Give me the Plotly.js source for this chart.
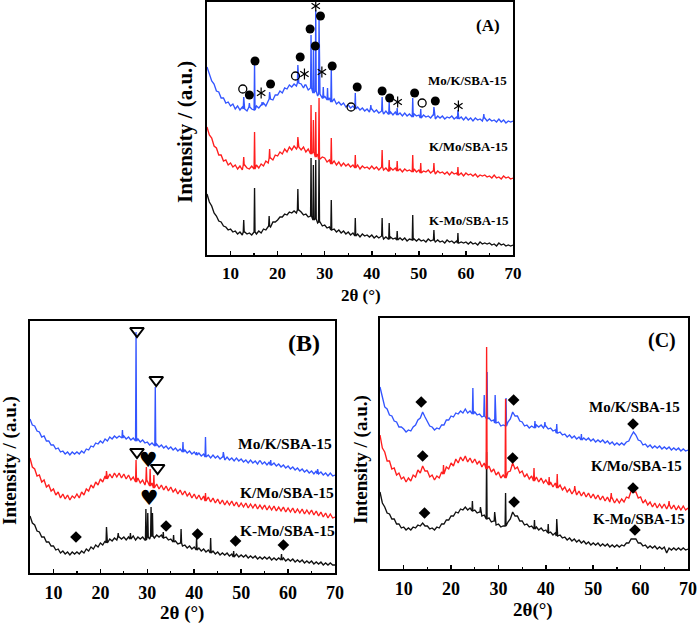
<!DOCTYPE html>
<html><head><meta charset="utf-8">
<script src="https://cdn.plot.ly/plotly-3.0.1.min.js"></script>
<style>html,body{margin:0;padding:0;background:#fff}</style>
</head><body><div id="chart" style="width:699px;height:625px"></div>
<script>
// 2-theta sampling grid (5..70 deg, 0.5 deg step)
const twoTheta = [];
for (let i = 0; i <= 130; i++) twoTheta.push(5 + i * 0.5);

const seriesNames = ["Mo/K/SBA-15", "K/Mo/SBA-15", "K-Mo/SBA-15"];
const xTicks = [10, 20, 30, 40, 50, 60, 70];

// ---------- Panel A (intensity, arbitrary units with offsets) ----------
const aBlue = [188,180,174,171,164,163,157,157,152,153,
149,151,146,149,145,148,146,144,148,146,
145,149,147,150,152,149,154,156,155,160,
160,164,162,167,166,170,168,171,169,172,
171,167,170,165,167,162,164,159,161,157,
159,155,157,153,156,151,153,150,152,148,
150,147,149,146,148,145,147,144,146,143,
146,143,145,142,144,141,144,141,143,140,
143,140,142,139,142,139,141,138,141,139,
140,137,140,138,139,137,140,136,139,137,
139,136,138,137,139,136,138,136,138,135,
138,135,137,134,137,135,136,134,137,134,
136,134,135,133,136,133,135,132,134,133,
134];
const aRed = [128,120,117,109,107,100,100,94,95,90,
92,88,90,86,89,85,90,87,86,89,
86,90,87,91,89,94,92,97,95,100,
99,103,101,106,103,108,105,109,106,108,
105,108,103,106,101,103,98,101,96,98,
97,93,95,91,94,90,93,89,92,89,
91,88,90,87,90,86,89,87,88,86,
89,86,88,85,88,85,87,84,87,85,
87,84,86,83,86,84,85,83,86,83,
85,82,84,83,85,82,84,81,84,82,
83,81,83,80,83,81,82,80,82,79,
82,80,81,79,81,78,80,79,80,78,
79,77,80,77,78,76,79,77,78,76,
77];
const aBlack = [61,53,49,42,39,34,33,29,28,25,
26,23,24,21,23,20,23,21,22,20,
23,21,24,22,26,25,29,28,33,33,
35,38,38,41,40,43,42,44,42,45,
43,40,41,38,39,35,36,32,33,29,
30,27,28,25,26,23,25,22,24,21,
23,20,22,19,21,18,21,19,20,18,
20,17,19,17,19,16,18,16,18,16,
17,15,17,15,17,14,16,15,16,14,
16,14,15,13,16,14,15,13,15,13,
14,12,15,13,14,12,14,12,13,12,
13,11,13,11,12,10,13,11,12,11,
12,10,11,9,12,10,11,9,10,9,
10];
const aBluePkX = [12.8,14.0,15.1,16.7,18.3,24.3,25.9,27.1,27.6,28.1,28.8,29.7,30.6,31.4,36.5,39.8,42.2,43.7,45.4,48.7,50.4,53.2,58.3,63.8];
const aBluePkY = [158,152,192,153,163,190,170,220,205,245,236,168,167,187,162,150,158,153,147,157,146,148,145,141];
const aRedPkX = [12.8,15.1,18.3,24.3,27.1,27.6,28.1,28.8,31.4,36.5,42.2,43.7,45.4,48.7,50.4,53.2,58.3];
const aRedPkY = [98,123,106,118,150,135,143,157,117,100,105,95,94,100,92,92,88];
const aBlackPkX = [12.8,15.1,18.2,24.3,27.1,27.6,28.1,28.8,31.4,36.5,42.2,43.7,45.4,48.7,53.2,58.3];
const aBlackPkY = [35,67,39,66,97,90,95,98,55,37,37,32,24,40,25,22];
// phase symbols in A
const aDotX = [14.0,15.2,18.5,24.8,26.9,28.0,29.1,31.6,36.9,42.2,43.8,49.1,53.5];
const aDotY = [160,194,171,198,226,209,239,189,168,164,157,162,154];
const aRingX = [12.6,23.8,35.6,50.7];
const aRingY = [166,179,148,152];
const aStarX = [16.5,25.7,28.1,29.4,45.5,58.4];
const aStarY = [162,181,249,183,153,149];

// ---------- Panel B ----------
const bBlue = [154,148,147,142,141,136,137,132,132,128,
128,124,125,121,122,119,121,118,121,119,
121,119,122,120,124,123,127,126,130,129,
132,130,134,132,136,134,137,135,137,135,
137,134,136,133,135,132,134,131,133,130,
131,128,130,127,129,126,128,125,127,124,
126,123,125,122,124,121,123,120,122,119,
121,118,120,117,119,116,118,115,118,115,
117,114,116,113,116,113,115,112,115,112,
114,111,113,110,113,110,112,109,112,109,
111,108,111,108,110,107,109,106,108,105,
107,104,106,103,105,102,104,101,103,100,
102,99,102,99,101,98,100,97,100,97,
98];
const bRed = [115,106,104,97,98,91,93,86,88,82,
84,78,81,75,79,74,78,73,77,75,
79,75,81,78,84,82,88,85,91,88,
94,91,97,94,99,95,100,96,100,95,
99,94,98,93,96,91,95,90,93,88,
92,87,90,85,89,84,88,83,87,82,
86,81,84,79,83,78,82,77,80,75,
79,74,78,73,77,72,76,71,75,70,
74,69,73,68,72,68,72,67,71,66,
70,66,70,65,69,65,69,64,68,64,
68,63,67,63,67,62,66,62,66,61,
65,61,65,60,64,60,64,59,63,59,
63,58,62,57,61,56,60,55,59,55,
56];
const bBlack = [57,50,48,42,41,36,36,31,31,27,
27,23,24,20,22,19,21,18,21,19,
21,19,22,20,24,22,26,24,28,26,
30,28,32,30,34,32,35,33,36,34,
36,33,36,34,37,33,36,34,36,33,
36,34,37,35,38,36,38,35,36,33,
34,31,32,29,30,27,28,25,27,24,
26,23,25,22,24,21,23,20,22,19,
21,18,20,18,20,17,19,16,19,16,
18,16,18,15,17,15,17,14,16,14,
16,14,16,13,15,13,15,13,15,12,
14,12,14,11,13,11,13,10,12,10,
12,9,11,9,11,8,10,8,10,8,
8];
const bBluePkX = [24.7,27.6,31.7,37.6,40.5,42.4,46.2,54.0,56.3,66.3];
const bBluePkY = [143,241,186,131,121,136,121,112,113,104];
const bRedPkX = [21.3,27.6,29.8,30.6,31.4,42.4];
const bRedPkY = [102,113,106,104,98,80];
const bBlackPkX = [21.3,23.8,26.4,29.7,30.1,30.8,31.1,33.4,35.6,37.2,40.5,43.5,48.4,58.6];
const bBlackPkY = [46,40,40,64,60,66,60,41,38,44,35,35,22,19];
const bTriX = [27.8,31.9,27.8,32.2];
const bTriY = [242,193,121,105];
const bHeartX = [30.2,30.4];
const bHeartY = [111,73];
const bDiamX = [14.8,34.0,40.7,48.8,59.0];
const bDiamY = [36,47,39,32,28];

// ---------- Panel C ----------
const cBlue = [182,171,162,160,154,153,148,147,142,142,
140,137,139,138,142,144,149,151,157,152,
148,143,142,139,141,140,144,144,149,149,
153,152,156,155,158,156,160,156,158,155,
157,154,155,152,153,150,151,148,149,146,
147,143,144,143,147,150,157,153,153,148,
147,143,144,141,143,141,144,142,144,141,
143,140,141,138,139,136,137,134,135,132,
134,131,133,130,132,129,131,129,131,128,
130,127,129,127,129,126,128,125,127,124,
126,124,126,124,127,128,133,137,134,129,
128,124,125,122,124,121,123,121,123,120,
122,120,122,119,121,119,121,118,120,118,
119];
const cRed = [134,121,117,108,108,100,101,94,96,90,
92,87,91,88,94,92,99,96,103,98,
98,92,94,89,93,91,97,95,102,100,
106,103,110,106,112,108,113,107,111,106,
110,105,108,102,106,100,103,97,100,94,
97,91,94,91,97,98,106,100,102,96,
98,92,95,90,93,88,92,87,91,86,
89,84,87,82,86,81,84,79,82,77,
80,75,79,74,78,73,77,72,76,71,
75,70,74,69,73,68,72,67,71,66,
70,66,70,67,72,71,78,77,77,71,
72,66,69,64,67,62,66,61,65,61,
65,60,64,60,64,59,63,59,63,59,
61];
const cBlack = [77,66,62,56,55,50,50,45,45,41,
42,39,41,39,42,41,44,43,46,43,
43,40,41,39,42,41,45,45,49,49,
53,53,57,56,60,59,62,59,61,58,
59,56,57,53,54,50,51,47,48,44,
45,42,43,43,47,50,57,53,53,48,
48,44,45,42,43,40,42,39,41,38,
39,36,37,34,36,33,34,31,32,29,
31,28,30,27,29,26,28,25,27,24,
26,24,26,23,25,23,25,22,24,22,
24,22,24,23,26,26,30,30,30,26,
26,23,24,21,23,21,23,20,22,20,
22,16,21,19,21,19,21,19,21,19,
20];
const cBluePkX = [24.6,27.0,27.6,29.3,31.6,37.7,39.8,42.3,47.5];
const cBluePkY = [181,174,197,174,171,148,147,145,135];
const cRedPkX = [18.4,27.5,31.5,37.5,40.7,42.4,46.1,53.8,66.0];
const cRedPkY = [104,222,170,101,92,95,83,76,68];
const cBlackPkX = [24.5,26.2,27.5,29.2,31.5,37.6,40.5,42.3];
const cBlackPkY = [68,62,117,57,76,49,45,50];
const cDiamX = [13.7,33.2,58.4,14.0,33.0,58.4,14.4,33.3,58.8];
const cDiamY = [167,169,145,113,111,81,56,67,39];

// ---------- build ----------
function pattern(base, pkX, pkY) {
  const pts = [];
  twoTheta.forEach((x, i) => {
    if (!pkX.some(p => Math.abs(p - x) < 0.13)) pts.push([x, base[i]]);
  });
  pkX.forEach((p, k) => {
    const foot = base[Math.round((p - 5) / 0.5)];
    pts.push([p - 0.1, foot], [p, pkY[k]], [p + 0.1, foot]);
  });
  pts.sort((a, b) => a[0] - b[0]);
  return {x: pts.map(q => q[0]), y: pts.map(q => q[1])};
}
const BLUE = '#3355ff', RED = '#ff1e1e', BLACK = '#111111';
function line(base, pkX, pkY, color, ax) {
  const p = pattern(base, pkX, pkY);
  return {x: p.x, y: p.y, type: 'scatter', mode: 'lines', xaxis: 'x' + ax, yaxis: 'y' + ax,
    line: {color: color, width: 1.35}, hoverinfo: 'skip'};
}
function marks(x, y, ax, marker) {
  return {x: x, y: y, type: 'scatter', mode: 'markers', xaxis: 'x' + ax, yaxis: 'y' + ax,
    marker: marker, hoverinfo: 'skip'};
}
const traces = [
  line(aBlack, aBlackPkX, aBlackPkY, BLACK, ''),
  line(aRed, aRedPkX, aRedPkY, RED, ''),
  line(aBlue, aBluePkX, aBluePkY, BLUE, ''),
  marks(aDotX, aDotY, '', {symbol: 'circle', size: 9, color: 'black'}),
  marks(aRingX, aRingY, '', {symbol: 'circle-open', size: 8, color: 'black', line: {width: 1.3}}),
  marks(aStarX, aStarY, '', {symbol: 'y-up-open', size: 7, color: 'black', line: {width: 1.2}}),
  marks(aStarX, aStarY, '', {symbol: 'y-down-open', size: 7, color: 'black', line: {width: 1.2}}),

  line(bBlack, bBlackPkX, bBlackPkY, BLACK, '2'),
  line(bRed, bRedPkX, bRedPkY, RED, '2'),
  line(bBlue, bBluePkX, bBluePkY, BLUE, '2'),
  marks(bTriX, bTriY, '2', {symbol: 'triangle-down-open', size: 12, color: 'black', line: {width: 2}}),
  marks(bDiamX, bDiamY, '2', {symbol: 'diamond', size: 9, color: 'black'}),
  {x: bHeartX, y: bHeartY, type: 'scatter', mode: 'text', text: ['\u2665', '\u2665'], xaxis: 'x2', yaxis: 'y2',
   textposition: 'middle center', textfont: {family: 'DejaVu Sans', size: 21, color: 'black'}, hoverinfo: 'skip'},

  line(cBlack, cBlackPkX, cBlackPkY, BLACK, '3'),
  line(cBlue, cBluePkX, cBluePkY, BLUE, '3'),
  line(cRed, cRedPkX, cRedPkY, RED, '3'),
  marks(cDiamX, cDiamY, '3', {symbol: 'diamond', size: 9, color: 'black'})
];

const W = 699, H = 625;
const FONT = 'Liberation Serif, Times New Roman, serif';
function xax(x0, x1, y0, y1, fs) {
  return {domain: [x0 / W, x1 / W], anchor: null, range: [5, 70], tickvals: xTicks,
    ticks: 'inside', ticklen: 4, tickwidth: 1.5, tickcolor: 'black',
    minor: {dtick: 5, tick0: 0, ticks: 'inside', ticklen: 2.5, tickwidth: 1.2, tickcolor: 'black'},
    showline: true, mirror: true, linewidth: 2, linecolor: 'black', showgrid: false, zeroline: false,
    tickfont: {family: FONT, size: fs, color: 'black', weight: 'bold'}, ticklabelstandoff: 2};
}
function yax(y0, y1, top) {
  return {domain: [1 - y1 / H, 1 - y0 / H], range: [0, top], showticklabels: false, ticks: '',
    showline: true, mirror: true, linewidth: 2, linecolor: 'black', showgrid: false, zeroline: false};
}
const xa = xax(207, 513, 2, 255, 17); xa.anchor = 'y';
const xb = xax(30, 335, 321, 573, 18); xb.anchor = 'y2';
const xc = xax(380, 688, 318, 569, 18); xc.anchor = 'y3';
const ya = yax(2, 255, 253); ya.anchor = 'x';
const yb = yax(321, 573, 252); yb.anchor = 'x2';
const yc = yax(318, 569, 251); yc.anchor = 'x3';

function ann(text, x, y, size, angle) {
  return {text: text, xref: 'paper', yref: 'paper', x: x / W, y: 1 - y / H, xanchor: 'center', yanchor: 'middle',
    showarrow: false, textangle: angle || 0, font: {family: FONT, size: size, color: 'black', weight: 'bold'}};
}
const annotations = [
  ann('(A)', 488, 26, 17),
  ann(seriesNames[0], 467, 81, 13), ann(seriesNames[1], 468, 146, 13), ann(seriesNames[2], 469, 220, 13),
  ann('2\u03b8 (\u00b0)', 361, 295, 17),
  ann('Intensity / (a.u.)', 185, 132, 21, -90),

  ann('(B)', 304, 343, 24),
  ann(seriesNames[0], 285, 443, 15.5), ann(seriesNames[1], 287, 492, 15.5), ann(seriesNames[2], 287, 530, 15.5),
  ann('2\u03b8 (\u00b0)', 182, 613, 19),
  ann('Intensity / (a.u.)', 10, 461, 19, -90),

  ann('(C)', 662, 340, 20),
  ann(seriesNames[0], 634, 407, 15), ann(seriesNames[1], 636, 466, 15), ann(seriesNames[2], 639, 519, 15),
  ann('2\u03b8(\u00b0)', 533, 610, 19),
  ann('Intensity / (a.u.)', 361, 460, 19, -90)
];

const layout = {
  width: W, height: H, margin: {l: 0, r: 0, t: 0, b: 0},
  paper_bgcolor: 'white', plot_bgcolor: 'white', showlegend: false,
  xaxis: xa, yaxis: ya, xaxis2: xb, yaxis2: yb, xaxis3: xc, yaxis3: yc,
  annotations: annotations
};
Plotly.newPlot('chart', traces, layout, {staticPlot: true, displayModeBar: false});
</script></body></html>
